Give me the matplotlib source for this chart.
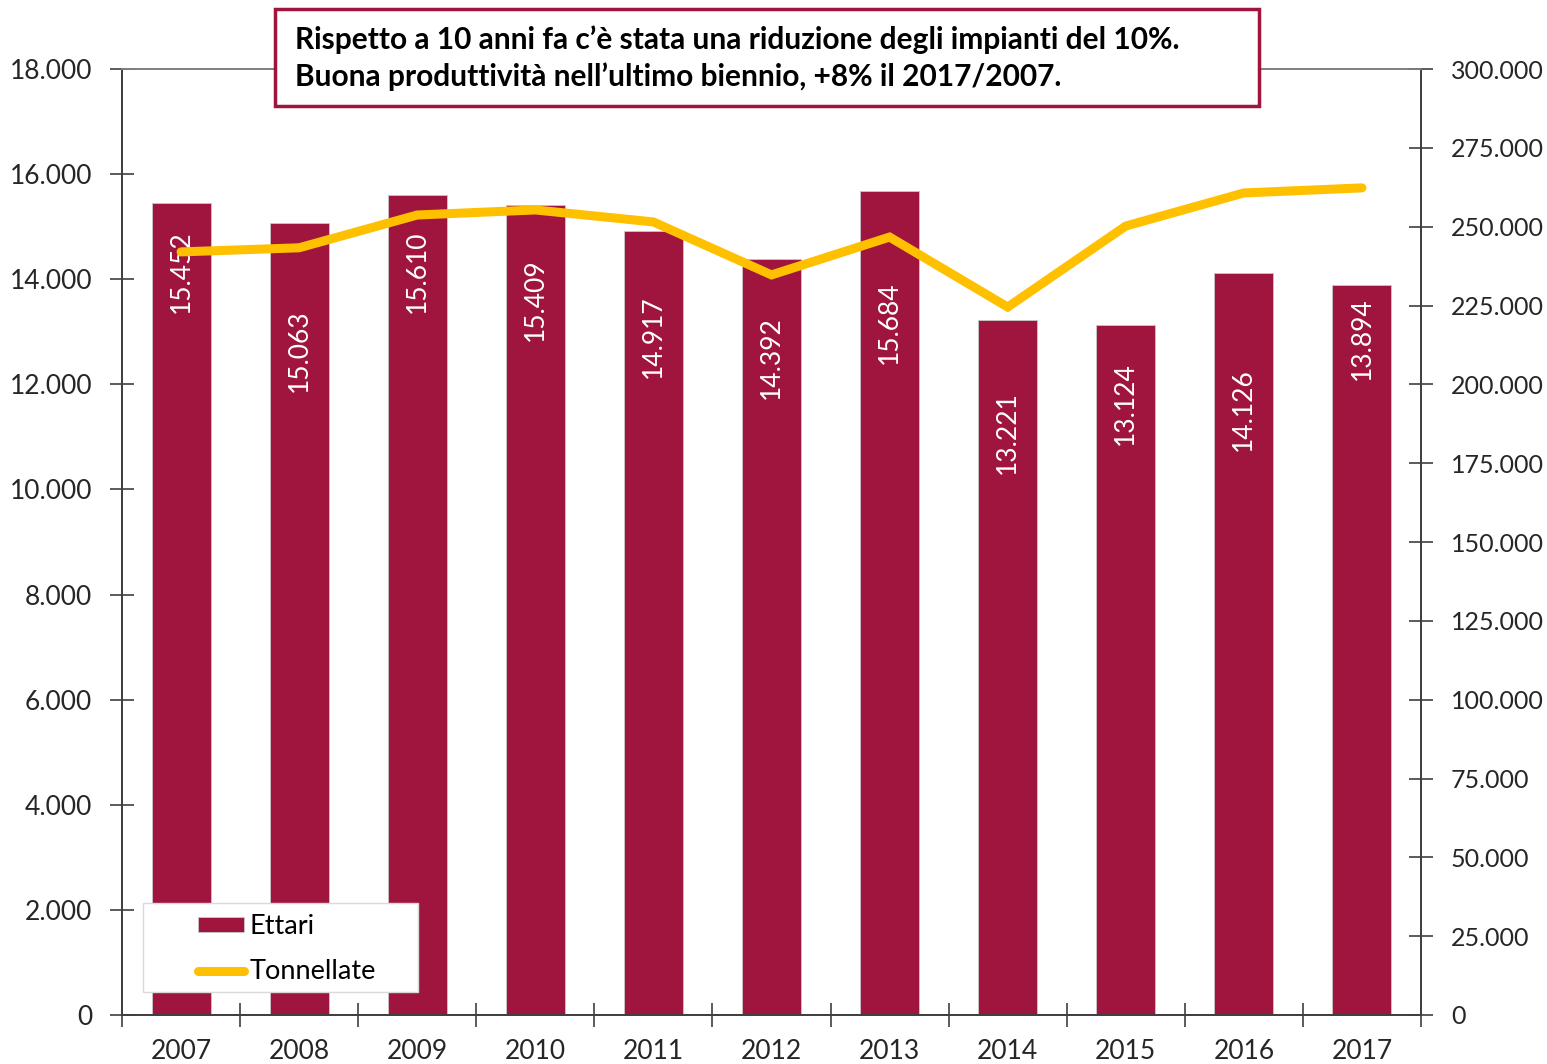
import numpy as np
import matplotlib.pyplot as plt
from matplotlib.patches import Rectangle
from matplotlib.ticker import FuncFormatter, FixedLocator

# --- data ---
years = ["2007", "2008", "2009", "2010", "2011", "2012",
         "2013", "2014", "2015", "2016", "2017"]
ettari = [15452, 15063, 15610, 15409, 14917, 14392,
          15684, 13221, 13124, 14126, 13894]
tonnellate = [242000, 243300, 253700, 255300, 251500, 234700,
              246700, 224500, 250200, 260700, 262300]
# vertical offset of each bar label below the bar top (pixels)
label_offsets = [69, 127, 77, 95, 106, 99, 132, 112, 78, 137, 54]

title_lines = ["Rispetto a 10 anni fa c\u2019\u00e8 stata una riduzione degli impianti del 10%.",
               "Buona produttivit\u00e0 nell\u2019ultimo biennio, +8% il 2017/2007."]

BAR_COLOR = "#A0153E"
LINE_COLOR = "#FFC000"
TXT = "#262626"
FS = 19

plt.rcParams["font.family"] = ["Lato", "DejaVu Sans"]


def it_fmt(v, _pos=None):
    return f"{int(round(v)):,}".replace(",", ".")


fig = plt.figure(figsize=(15.47, 10.64), dpi=100)
ax = fig.add_axes([122 / 1547, 1 - 1015 / 1064, 1299 / 1547, 946 / 1064])
ax2 = ax.twinx()

x = np.arange(len(years))
bars = ax.bar(x, ettari, width=0.5, color=BAR_COLOR, edgecolor="#c8c8c8",
              linewidth=0.6, label="Ettari", zorder=2)
for xi, v, off in zip(x, ettari, label_offsets):
    ax.annotate(it_fmt(v), xy=(xi, v), xytext=(0, -off * 0.72),
                textcoords="offset points", rotation=90, ha="center",
                va="center", color="white", fontsize=19, zorder=3)

line, = ax2.plot(x, tonnellate, color=LINE_COLOR, linewidth=6.5,
                 solid_capstyle="round", solid_joinstyle="miter",
                 label="Tonnellate", zorder=4)

ax.set_xlim(-0.5, len(years) - 0.5)
ax.set_ylim(0, 18000)
ax2.set_ylim(0, 300000)
ax.set_yticks(np.arange(0, 18001, 2000))
ax2.set_yticks(np.arange(0, 300001, 25000))
ax.yaxis.set_major_formatter(FuncFormatter(it_fmt))
ax2.yaxis.set_major_formatter(FuncFormatter(it_fmt))

ax.set_xticks(x)
ax.set_xticklabels(years)
ax.xaxis.set_minor_locator(FixedLocator(np.arange(-0.5, len(years), 1.0)))
ax.tick_params(axis="x", which="major", length=0, pad=17, labelsize=FS,
               labelcolor=TXT)
ax.tick_params(axis="x", which="minor", direction="inout", length=17,
               width=1.2, color="#404040")
ax.tick_params(axis="y", direction="inout", length=17, width=1.2,
               color="#404040", pad=13, labelsize=FS, labelcolor=TXT)
ax2.tick_params(axis="y", direction="inout", length=17, width=1.2,
                color="#404040", pad=13, labelsize=18, labelcolor=TXT)

for a in (ax, ax2):
    for s in ("left", "right", "bottom"):
        a.spines[s].set_color("#404040")
        a.spines[s].set_linewidth(1.3)
    a.spines["top"].set_color("#808080")
    a.spines["top"].set_linewidth(1.3)

ax.set_zorder(ax2.get_zorder() - 1)
ax2.patch.set_visible(False)

# legend: white frame + frameless legend inside
frame = Rectangle((21 / 1299, 23 / 946), 275 / 1299, 89 / 946,
                  transform=ax2.transAxes, facecolor="white",
                  edgecolor="#d9d9d9", linewidth=1.0, zorder=5)
ax2.add_patch(frame)
leg = ax2.legend([bars, line], ["Ettari", "Tonnellate"],
                 loc="upper left", bbox_to_anchor=(76 / 1299, 101 / 946),
                 borderaxespad=0, borderpad=0, frameon=False,
                 fontsize=19.5, handlelength=1.7, handleheight=0.45,
                 handletextpad=0.2, labelspacing=0.75)
leg.set_zorder(6)

# title box
box = Rectangle((275 / 1547, 1 - 106 / 1064), 984 / 1547, 97 / 1064,
                transform=fig.transFigure, facecolor="white",
                edgecolor=BAR_COLOR, linewidth=2.5, zorder=10)
fig.patches.append(box)
fig.text(295 / 1547, 1 - 40 / 1064, title_lines[0], fontsize=21.5,
         fontweight="bold", color="black", va="center", ha="left", zorder=11)
fig.text(295 / 1547, 1 - 77 / 1064, title_lines[1], fontsize=21.5,
         fontweight="bold", color="black", va="center", ha="left", zorder=11)

fig.savefig("out.png", dpi=100)
